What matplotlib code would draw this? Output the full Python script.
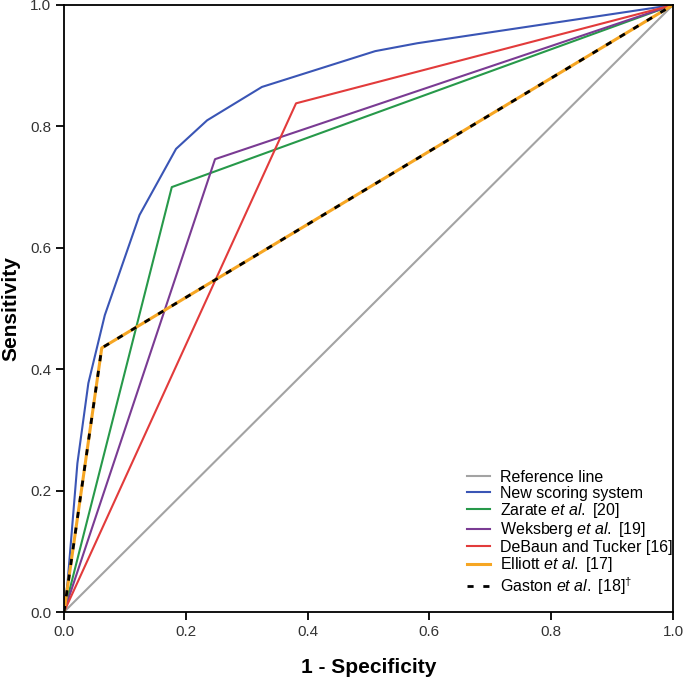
import matplotlib
matplotlib.use("Agg")
import matplotlib.pyplot as plt

plt.rcParams['font.family'] = ['Liberation Sans', 'DejaVu Sans']
plt.rcParams['mathtext.fontset'] = 'custom'
plt.rcParams['mathtext.rm'] = 'Liberation Sans'
plt.rcParams['mathtext.it'] = 'Liberation Sans:italic'
plt.rcParams['mathtext.bf'] = 'Liberation Sans:bold'

# Data (1 - specificity, sensitivity)
ref_x = [0.0, 1.0]
ref_y = [0.0, 1.0]

new_x = [0.0, 0.006, 0.022, 0.040, 0.067, 0.124, 0.184, 0.235, 0.325, 0.511, 0.580, 1.0]
new_y = [0.0, 0.05, 0.245, 0.377, 0.489, 0.654, 0.763, 0.810, 0.865, 0.924, 0.937, 1.0]

zarate_x = [0.0, 0.177, 1.0]
zarate_y = [0.0, 0.700, 1.0]

weksberg_x = [0.0, 0.248, 1.0]
weksberg_y = [0.0, 0.746, 1.0]

debaun_x = [0.0, 0.381, 1.0]
debaun_y = [0.0, 0.838, 1.0]

elliott_x = [0.0, 0.062, 1.0]
elliott_y = [0.0, 0.435, 1.0]

gaston_x = [0.0, 0.062, 1.0]
gaston_y = [0.0, 0.435, 1.0]

labels = ["Reference line", "New scoring system", r"Zarate $\mathit{et\ al.}$ [20]",
          r"Weksberg $\mathit{et\ al.}$ [19]", "DeBaun and Tucker [16]",
          r"Elliott $\mathit{et\ al.}$ [17]", r"Gaston $\mathit{et\ al.}$ [18]$^{\dagger}$"]

fig = plt.figure(figsize=(6.85, 6.78), dpi=100)
ax = fig.add_axes([64/685, 66/678, 609/685, 607/678])

lw = 1.5
ax.plot(ref_x, ref_y, color='#a3a3a3', lw=lw, label=labels[0])
ax.plot(new_x, new_y, color='#3a55b5', lw=lw, label=labels[1])
ax.plot(zarate_x, zarate_y, color='#27994a', lw=lw, label=labels[2])
ax.plot(weksberg_x, weksberg_y, color='#7a3b93', lw=lw, label=labels[3])
ax.plot(debaun_x, debaun_y, color='#e23b3b', lw=lw, label=labels[4])
ax.plot(elliott_x, elliott_y, color='#f6a623', lw=2.2, label=labels[5])
ax.plot(gaston_x, gaston_y, color='black', lw=2.0, dashes=(2.2, 3.5), label=labels[6])

ax.set_xlim(0, 1)
ax.set_ylim(0, 1)
ticks = [0.0, 0.2, 0.4, 0.6, 0.8, 1.0]
ax.set_xticks(ticks)
ax.set_yticks(ticks)
ax.set_xticklabels([f"{t:.1f}" for t in ticks])
ax.set_yticklabels([f"{t:.1f}" for t in ticks])
ax.tick_params(direction='out', length=6, width=1.3, labelsize=11, colors='black',
               labelcolor='#333333', pad=3)
for s in ax.spines.values():
    s.set_linewidth(1.3)

ax.set_xlabel("1 - Specificity", fontsize=15, fontweight='bold', labelpad=14)
ax.set_ylabel("Sensitivity", fontsize=15, fontweight='bold', va='center')
ax.yaxis.set_label_coords(-0.087, 0.5)

leg = ax.legend(loc='lower right', frameon=False, fontsize=11.5, handlelength=1.45,
                handletextpad=0.6, labelspacing=0.03, borderaxespad=0.0, borderpad=0.05,
                bbox_to_anchor=(1.0, 0.024))

fig.savefig("out.png", dpi=100)
